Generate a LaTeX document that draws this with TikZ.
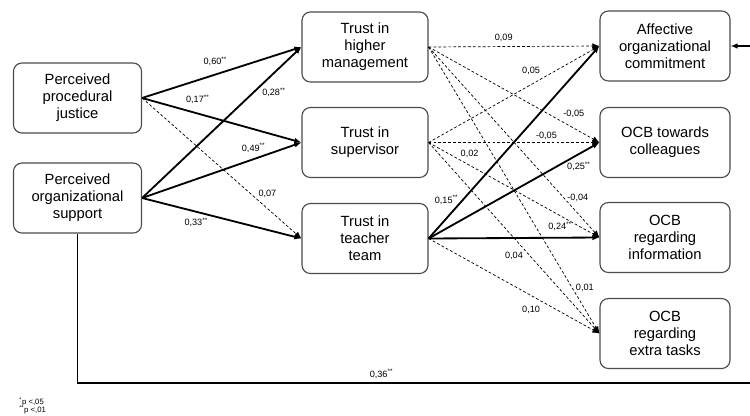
\documentclass[tikz,border=0pt]{standalone}
\usepackage{fontspec}
\setmainfont{Liberation Sans}
\usetikzlibrary{arrows.meta}

\begin{document}
\begin{tikzpicture}[
  x=0.025cm, y=-0.025cm,
  >={Latex[length=5pt,width=4pt]},
  box/.style  = {rectangle, draw=black!70, rounded corners=6pt, fill=white,
                 line width=0.8pt, minimum width=3.2cm, minimum height=1.75cm,
                 align=center, font=\fontsize{10.5}{12}\selectfont},
  sig/.style  = {->, line width=1.3pt},
  ns/.style   = {->, line width=0.5pt, dash pattern=on 2pt off 1.5pt},
  coef/.style = {font=\fontsize{6.5}{7}\selectfont, inner sep=0.5pt},
  legend/.style = {font=\fontsize{5.5}{6}\selectfont, align=left, inner sep=0pt}
]
\useasboundingbox (0,0) rectangle (750,415);

%%% ---- PREDICTORS ----
\node[box] (ppj) at (77.5,98)  {Perceived\\procedural\\justice};
\node[box] (pos) at (77.5,198) {Perceived\\organizational\\support};

%%% ---- TRUST ----
\node[box,minimum width=3.15cm] (hm)  at (365,47)    {Trust in\\higher\\management};
\node[box,minimum width=3.15cm] (sup) at (365,142.5) {Trust in\\supervisor};
\node[box,minimum width=3.15cm] (tt)  at (365,238.5) {Trust in\\teacher\\team};

%%% ---- OUTCOMES ----
\node[box,minimum width=3.25cm] (aff)   at (665,46)    {Affective\\organizational\\commitment};
\node[box,minimum width=3.25cm] (col)   at (665,142.5) {OCB towards\\colleagues};
\node[box,minimum width=3.25cm] (info)  at (665,237.5) {OCB\\regarding\\information};
\node[box,minimum width=3.25cm] (extra) at (665,333.5) {OCB\\regarding\\extra tasks};

%%% ---- PREDICTORS -> TRUST ----
\draw[sig] (ppj.east) -- node[coef,pos=.46,above=5pt]{0,60\textsuperscript{**}} (hm.west);
\draw[sig] (ppj.east) -- node[coef,pos=.35,above=5.7pt]{0,17\textsuperscript{**}} (sup.west);
\draw[ns]  (ppj.east) -- node[coef,pos=.68,right=5pt]{0,07} (tt.west);
\draw[sig] (pos.east) -- node[coef,pos=.7,right=5pt]{0,28\textsuperscript{**}} (hm.west);
\draw[sig] (pos.east) -- node[coef,pos=.7,above=3.6pt]{0,49\textsuperscript{**}} (sup.west);
\draw[sig] (pos.east) -- node[coef,pos=.34,below=3pt]{0,33\textsuperscript{**}} (tt.west);

%%% ---- TRUST -> OUTCOMES ----
\draw[ns]  (hm.east)  -- node[coef,pos=.44,above=2.5pt]{0,09} (aff.west);
\draw[ns]  (hm.east)  -- node[coef,pos=.85,above=6.5pt]{-0,05} (col.west);
\draw[ns]  (hm.east)  -- node[coef,pos=.79,right=2pt]{-0,04} (info.west);
\draw[ns]  (hm.east)  -- node[coef,pos=.84,right=2pt]{0,01} (extra.west);

\draw[ns]  (sup.east) -- node[coef,pos=.6,above=6.5pt]{0,05} (aff.west);
\draw[ns]  (sup.east) -- node[coef,pos=.69,above=1pt]{-0,05} (col.west);
\draw[ns]  (sup.east) -- node[coef,pos=.24,above=5pt]{0,02} (info.west);
\draw[ns]  (sup.east) -- node[coef,pos=.5,below=9pt]{0,04} (extra.west);

\draw[sig] (tt.east)  -- node[coef,pos=.2,left=2pt]{0,15\textsuperscript{**}} (aff.west);
\draw[sig] (tt.east)  -- node[coef,pos=.88,below=4.3pt]{0,25\textsuperscript{**}} (col.west);
\draw[sig] (tt.east)  -- node[coef,pos=.77,above=3.6pt]{0,24\textsuperscript{**}} (info.west);
\draw[ns]  (tt.east)  -- node[coef,pos=.6,below=7pt]{0,10} (extra.west);

%%% ---- DIRECT PATH ----
\coordinate (br) at (753,383);
\coordinate (tr) at (753,46);
\draw[sig] (pos.south) |- node[coef,pos=.725,above=2pt]{0,36\textsuperscript{**}} (br)
  -- (tr) -- (aff.east);

%%% ---- LEGEND ----
\node[legend,anchor=west] (leg) at (19,406)
  {\textsuperscript{*}p <,05\\\textsuperscript{**}p <,01};
\end{tikzpicture}
\end{document}
